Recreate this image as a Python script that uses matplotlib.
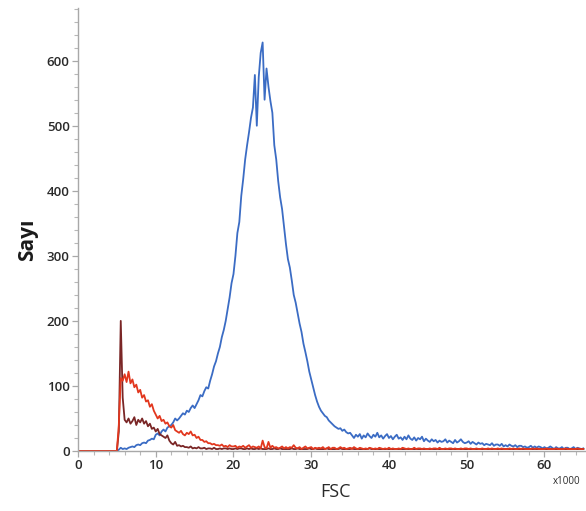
import numpy as np
import matplotlib
matplotlib.use("Agg")
import matplotlib.pyplot as plt
from matplotlib.ticker import MultipleLocator

# FSC channel (x1000), one bin every 250
fsc = np.arange(0, 65.01, 0.25)

# counts per bin, four bins per row (k, k+.25, k+.5, k+.75)
blue = [
    0, 0, 0, 0,  0, 0, 0, 0,  0, 0, 0, 0,  0, 0, 0, 0,  0, 0, 0, 0,
    0, 2, 5, 3,  4, 3, 5, 6,  7, 6, 9, 10,  9, 12, 13, 12,  16, 17, 19, 18,
    25, 27, 24, 30,  33, 30, 36, 38,  40, 44, 50, 47,  50, 54, 58, 56,  62, 60, 66, 70,
    66, 72, 78, 86,  84, 92, 98, 96,  108, 118, 130, 138,  150, 160, 175, 186,  200, 218, 236, 258,
    272, 300, 335, 352,  392, 418, 448, 470,  490, 512, 528, 578,  500, 575, 612, 628,
    540, 588, 560, 538,  520, 470, 448, 415,  390, 372, 345, 318,  295, 282, 262, 240,
    228, 212, 196, 183,  165, 152, 138, 122,  110, 98, 86, 76,  68, 62, 58, 54,
    52, 47, 44, 41,  38, 36, 34, 35,  31, 33, 29, 27,  28, 24, 20, 25,
    22, 26, 19, 24,  21, 27, 23, 20,  25, 22, 28, 21,  24, 19, 23, 26,
    20, 23, 18, 22,  25, 19, 21, 17,  22, 18, 24, 19,  17, 21, 16, 20,  18, 22, 15, 19,
    16, 14, 18, 15,  17, 13, 16, 14,  15, 18, 13, 16,  14, 12, 17, 13,  15, 18, 14, 12,
    13, 15, 11, 14,  12, 10, 13, 11,  12, 9, 11, 10,  9, 12, 8, 10,  10, 8, 11, 7,
    9, 7, 10, 8,  7, 9, 6, 8,  8, 6, 7, 5,  6, 8, 5, 7,  5, 7, 6, 4,
    6, 4, 5, 7,  5, 3, 6, 4,  4, 6, 3, 5,  5, 3, 4, 6,  3, 5, 4, 3,
    4,
]

red = [
    0, 0, 0, 0,  0, 0, 0, 0,  0, 0, 0, 0,  0, 0, 0, 0,  0, 0, 0, 0,
    0, 40, 112, 108,  118, 106, 122, 104,  110, 98, 102, 90,  94, 82, 86, 76,  78, 68, 72, 62,
    56, 50, 54, 46,  48, 42, 44, 38,  36, 40, 32, 30,  28, 31, 26, 24,  28, 26, 30, 24,
    25, 20, 22, 17,  17, 14, 15, 12,  12, 10, 11, 9,  9, 8, 10, 7,  8, 6, 9, 7,
    7, 8, 5, 7,  6, 8, 5, 7,  9, 5, 7, 6,  5, 7, 4, 16,  6, 4, 14, 5,
    8, 5, 6, 4,  5, 7, 4, 6,  4, 6, 5, 9,  5, 4, 6, 3,  5, 7, 4, 5,
    6, 3, 5, 4,  5, 4, 6, 3,  4, 6, 3, 5,  5, 3, 4, 6,  4, 5, 3, 4,
    5, 3, 6, 4,  3, 5, 4, 3,  4, 3, 5, 4,  3, 4, 3, 5,  4, 3, 4, 3,
    5, 3, 4, 3,  3, 4, 3, 5,  4, 3, 4, 3,  3, 5, 3, 4,  4, 3, 4, 3,
    3, 4, 3, 4,  4, 3, 5, 3,  3, 4, 3, 4,  4, 3, 4, 3,  3, 4, 3, 4,
    4, 3, 4, 3,  3, 4, 3, 3,  4, 3, 3, 4,  3, 4, 3, 3,  4, 3, 4, 3,
    3, 3, 4, 3,  4, 3, 3, 4,  3, 4, 3, 3,  3, 3, 4, 3,  4, 3, 3, 3,
    3, 4, 3, 3,  3, 3, 4, 3,  3, 3, 3, 4,  3, 3, 3, 3,  3, 4, 3, 3,
    3,
]

maroon = [
    0, 0, 0, 0,  0, 0, 0, 0,  0, 0, 0, 0,  0, 0, 0, 0,  0, 0, 0, 0,
    0, 30, 200, 82,  48, 44, 50, 42,  46, 52, 40, 48,  44, 50, 42, 46,  38, 42, 34, 36,
    30, 34, 26, 24,  22, 20, 24, 16,  12, 10, 14, 8,  9, 7, 8, 6,  6, 5, 7, 4,
    5, 4, 6, 4,  4, 5, 3, 4,  4, 3, 5, 3,  3, 4, 3, 4,  4, 3, 4, 3,
    3, 4, 3, 4,  4, 3, 3, 4,  3, 4, 3, 3,  4, 3, 4, 3,  3, 3, 4, 3,
    3, 4, 3, 3,  4, 3, 3, 3,  3, 3, 4, 3,  3, 4, 3, 3,  3, 3, 3, 4,
    3, 3, 4, 3,  3, 3, 3, 3,  4, 3, 3, 3,  3, 3, 3, 4,  3, 3, 3, 3,
    3, 4, 3, 3,  3, 3, 3, 3,  3, 3, 4, 3,  3, 3, 3, 3,  3, 3, 3, 3,
    3, 3, 3, 3,  3, 3, 3, 3,  3, 3, 3, 3,  3, 3, 3, 3,  3, 3, 3, 3,
    3, 3, 3, 3,  3, 3, 3, 3,  3, 3, 3, 3,  3, 3, 3, 3,  3, 3, 3, 3,
    3, 3, 3, 3,  3, 3, 3, 3,  3, 3, 3, 3,  3, 3, 3, 3,  3, 3, 3, 3,
    3, 3, 3, 3,  3, 3, 3, 3,  3, 3, 3, 3,  3, 3, 3, 3,  3, 3, 3, 3,
    3, 3, 3, 3,  3, 3, 3, 3,  3, 3, 3, 3,  3, 3, 3, 3,  3, 3, 3, 3,
    3,
]

x_ticks = [0, 10, 20, 30, 40, 50, 60]
y_ticks = [0, 100, 200, 300, 400, 500, 600]

plt.rcParams['font.family'] = ['Open Sans', 'DejaVu Sans']

fig = plt.figure(figsize=(5.86, 5.11), dpi=100)
ax = fig.add_axes([0.1331, 0.1174, 0.865, 0.867])

ax.plot(fsc, blue, color='#3b6cc4', lw=1.3)
ax.plot(fsc, maroon, color='#7a2626', lw=1.3)
ax.plot(fsc, red, color='#e2371e', lw=1.3)

ax.set_xlim(0, 65.2)
ax.set_ylim(0, 681)
ax.set_xticks(x_ticks)
ax.set_yticks(y_ticks)
ax.xaxis.set_minor_locator(MultipleLocator(2))
ax.yaxis.set_minor_locator(MultipleLocator(20))

for s in ['top', 'right']:
    ax.spines[s].set_visible(False)
for s in ['left', 'bottom']:
    ax.spines[s].set_color('#a8a8a8')
    ax.spines[s].set_linewidth(1.0)

ax.tick_params(which='major', length=4, width=0.9, color='#a8a8a8',
               labelsize=9.5, labelcolor='#2a2a2a', pad=2)
ax.tick_params(which='minor', length=3, width=0.8, color='#b8b8b8')
for lab in ax.get_xticklabels() + ax.get_yticklabels():
    lab.set_fontweight('semibold')

fig.text(28 / 586, 1 - 240 / 511, 'Sayı', rotation=90, fontsize=15,
         fontweight='bold', color='#1a1a1a', ha='center', va='center')
fig.text(336 / 586, 1 - 492 / 511, 'FSC', fontsize=13, color='#2a2a2a',
         ha='center', va='center')
fig.text(567 / 586, 1 - 481 / 511, 'x1000', fontsize=7, color='#2a2a2a',
         ha='center', va='center')

fig.savefig('out.png', dpi=100)
